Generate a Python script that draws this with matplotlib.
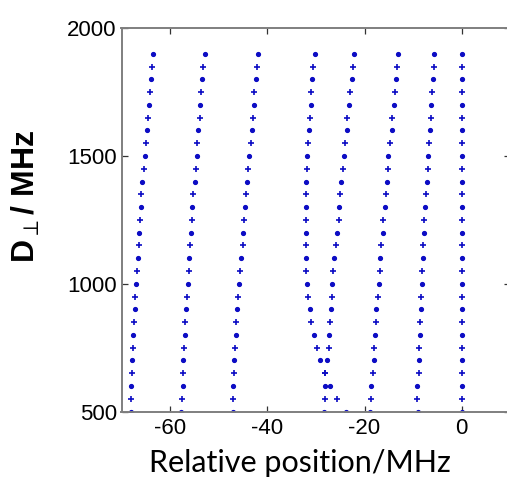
import matplotlib
matplotlib.use("Agg")
import matplotlib.pyplot as plt
import numpy as np

# D_perp values (MHz)
d_perp = [500, 550, 600, 650, 700, 750, 800, 850, 900, 950, 1000, 1050, 1100, 1150,
          1200, 1250, 1300, 1350, 1400, 1450, 1500, 1550, 1600, 1650, 1700, 1750,
          1800, 1850, 1900]

# relative positions (MHz) of each line, in order of increasing D_perp
line1 = [-68.1, -68.1, -68.1, -67.8, -67.8, -67.6, -67.6, -67.4, -67.2, -67.2, -67.0,
         -66.8, -66.6, -66.3, -66.3, -66.1, -65.9, -65.9, -65.7, -65.3, -65.1, -64.9,
         -64.7, -64.6, -64.4, -64.2, -64.0, -63.8, -63.6]
line2 = [-57.7, -57.6, -57.4, -57.4, -57.3, -57.1, -57.0, -56.9, -56.7, -56.5, -56.3,
         -56.1, -56.1, -55.9, -55.7, -55.5, -55.4, -55.2, -54.9, -54.7, -54.5, -54.4,
         -54.3, -53.9, -53.9, -53.7, -53.5, -53.3, -52.9]
line3 = [-47.1, -47.1, -47.1, -46.9, -46.9, -46.7, -46.4, -46.4, -46.3, -46.1, -45.9,
         -45.7, -45.4, -45.1, -44.9, -44.7, -44.6, -44.3, -44.1, -43.9, -43.7, -43.4,
         -43.2, -43.0, -42.8, -42.8, -42.3, -42.1, -41.9]
line4 = [-28.4, -28.2, -28.1, -28.1, -29.1, -29.8, -30.3, -31.0, -31.2, -31.6, -31.8,
         -32.1, -32.1, -32.1, -32.1, -32.1, -32.1, -32.1, -32.1, -31.8, -31.8, -31.6,
         -31.5, -31.2, -31.0, -31.0, -30.8, -30.5, -30.2]
line5 = [-23.8, -25.7, -27.2, -28.1, -27.8, -27.4, -27.3, -27.1, -26.9, -26.6, -26.6,
         -26.4, -26.2, -25.9, -25.7, -25.3, -25.2, -25.0, -24.8, -24.5, -24.3, -24.0,
         -23.6, -23.5, -23.1, -22.9, -22.5, -22.3, -22.1]
line6 = [-18.8, -18.7, -18.6, -18.3, -18.1, -18.0, -17.8, -17.6, -17.6, -17.3, -17.1,
         -16.9, -16.9, -16.6, -16.2, -16.1, -15.8, -15.6, -15.3, -15.2, -15.1, -14.7,
         -14.4, -14.4, -14.0, -13.7, -13.5, -13.3, -13.1]
line7 = [-9.0, -9.1, -9.1, -8.7, -8.7, -8.7, -8.5, -8.5, -8.3, -8.3, -8.2, -8.1, -7.9,
         -7.9, -7.7, -7.7, -7.5, -7.3, -7.2, -7.0, -7.0, -6.7, -6.6, -6.3, -6.3, -6.1,
         -5.9, -5.7, -5.7]
line8 = [0.0] * 29

lines = [line1, line2, line3, line4, line5, line6, line7, line8]

x_ticks = [-60, -40, -20, 0]
y_ticks = [500, 1000, 1500, 2000]

color = "#0c0cc4"

fig = plt.figure(figsize=(5.07, 4.80), dpi=100)
ax = fig.add_axes([121.5 / 507, 1 - 411.5 / 480, 388.8 / 507, 383.2 / 480])

d = np.array(d_perp)
dot_mask = np.arange(len(d)) % 2 == 0
for ln in lines:
    x = np.array(ln)
    ax.plot(x[dot_mask], d[dot_mask], ls="none", marker=".", ms=5.5,
            color=color, mec=color)
    ax.plot(x[~dot_mask], d[~dot_mask], ls="none", marker="+", ms=4.5,
            mew=1.2, color=color)

ax.set_xlim(-70, 10)
ax.set_ylim(500, 2000)
ax.set_xticks(x_ticks)
ax.set_yticks(y_ticks)
ax.set_xticklabels([str(v) for v in x_ticks], fontfamily="Liberation Sans", fontsize=16)
ax.set_yticklabels([str(v) for v in y_ticks], fontfamily="Liberation Sans", fontsize=16)
ax.tick_params(direction="in", length=4, width=0.9, color="#333333",
               top=True, right=True)
ax.tick_params(axis="x", pad=5)
ax.tick_params(axis="y", pad=3.4)
for sp in ax.spines.values():
    sp.set_color("#7f7f7f")
    sp.set_linewidth(1.4)

fig.text(300 / 507, 1 - 472 / 480, "Relative position/MHz", ha="center", va="baseline",
         fontfamily="Lato", fontsize=22)
fig.text(26 / 507, 1 - 197 / 480, r"D$_{\perp}$/ MHz", ha="center", va="center",
         rotation=90, fontfamily="Liberation Sans", fontweight="bold", fontsize=23)

fig.savefig("out.png", dpi=100)
